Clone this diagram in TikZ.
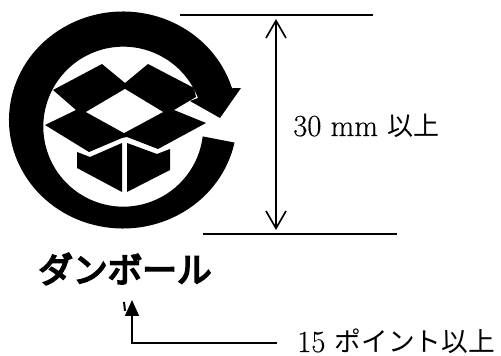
\documentclass[tikz,border=0pt]{standalone}
\usepackage{fontspec}
\setmainfont[FakeBold=0.4]{Latin Modern Roman}
\newfontfamily\cjkfont{Noto Sans CJK JP}
\newfontfamily\wordfont[FakeBold=5]{Noto Sans CJK JP}
\usetikzlibrary{arrows.meta,positioning}

\begin{document}
\begin{tikzpicture}[x=0.75pt,y=-0.75pt,
    dimline/.style={line width=1.25pt},
    measure/.style={line width=1.25pt,{Straight Barb[length=13pt,width=15pt]}-{Straight Barb[length=13pt,width=15pt]}},
    label/.style={inner sep=0pt,anchor=base west,font=\fontsize{23}{25}\selectfont}]
    \useasboundingbox (0,0) rectangle (501,356);

    % Ring with arrowhead
    \fill (123,120) ++(12:114 and 108.5) arc[start angle=12,end angle=343,x radius=114,y radius=108.5]
        -- (241,88) -- (220,118) -- (190,101) -- (198,98)
        arc[start angle=339,end angle=7,x radius=80,y radius=80] -- cycle;

    % Flaps
    \fill (53,90) -- (102,64) -- (125,83) -- (148,64) -- (194,88) -- (196,97) -- (174,110) -- (206,123)
        -- (158,149) -- (127,137) -- (122,138) -- (89,152) -- (45,125) -- (76,110) -- cycle;
    \fill[white] (86,112) -- (125,89) -- (163,112) -- (124,133) -- cycle;

    % Box sides
    \fill (77,152) -- (90,157) -- (122,143) -- (122,192) -- (77,168) -- cycle;
    \fill (127,143) -- (157,154) -- (170,149) -- (170,170) -- (127,192) -- cycle;

    % Word
    \node[inner sep=0pt,font=\wordfont\fontsize{26}{28}\selectfont] (word) at (125,269) {ダンボール};

    % Height
    \coordinate (tl) at (180,15);
    \coordinate (tr) at (373,15);
    \coordinate (bl) at (203,234);
    \coordinate (br) at (397,234);
    \draw[dimline] (tl) -- (tr);
    \draw[dimline] (bl) -- (br);
    \coordinate (up) at (276,19);
    \coordinate (down) at (276,230);
    \draw[measure] (up) -- (down);
    \node[label] (height) at (293,136) {30 mm\hspace{7pt}{\cjkfont\fontsize{19.5}{25}\selectfont 以上}};

    % Point size
    \node[label] (points) at (297,352) {15\hspace{7pt}{\cjkfont\fontsize{20}{25}\selectfont ポイント以上}};
    \coordinate (tip) at (132,300);
    \coordinate (elbow) at (277,343);
    \draw[dimline,-{Triangle[length=12pt,width=10.5pt]}] (elbow) -| (tip);
    \fill (123,302) -- (125,302) -- (126,311) -- (124,311) -- cycle;
\end{tikzpicture}
\end{document}
